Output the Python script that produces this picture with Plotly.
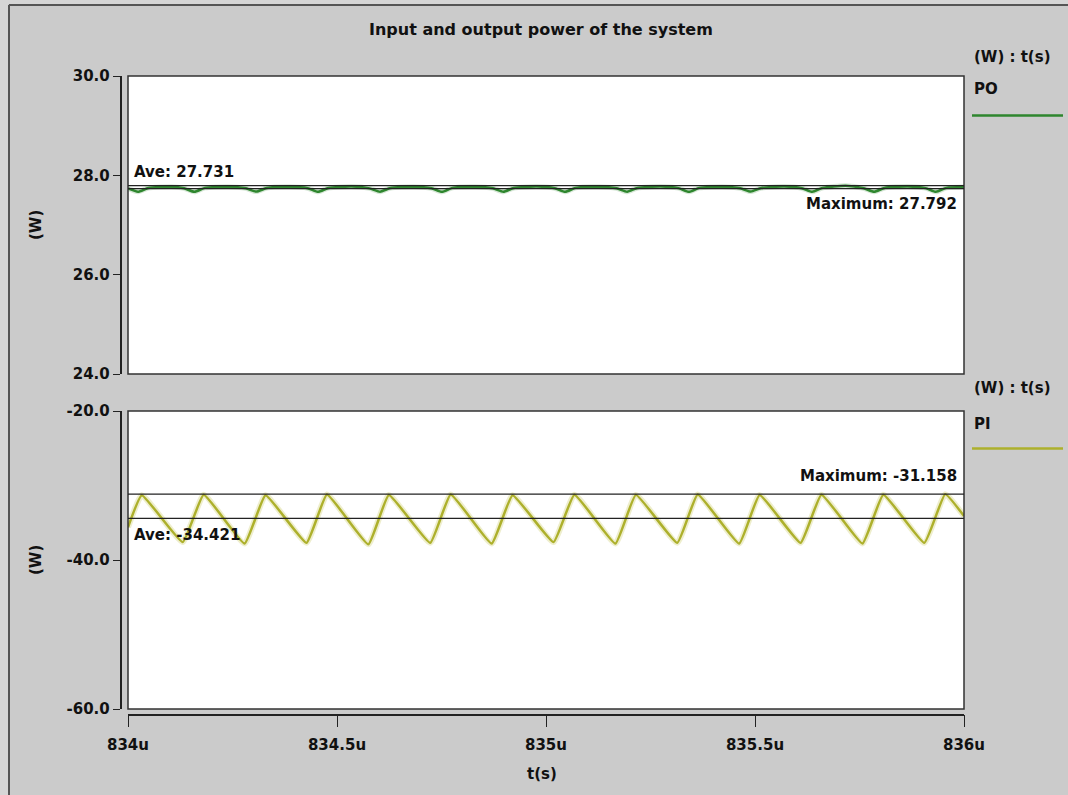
import plotly.graph_objects as go

# ---- figure size (pixels) ----
W, H = 1068, 795

# ---- output power PO (W) vs time (microseconds) ----
po_t = [834.000, 834.024, 834.049, 834.104,
        834.134, 834.159, 834.184, 834.239,
        834.282, 834.307, 834.332, 834.387,
        834.430, 834.455, 834.480, 834.535,
        834.578, 834.603, 834.628, 834.683,
        834.726, 834.751, 834.776, 834.831,
        834.873, 834.898, 834.923, 834.978,
        835.021, 835.046, 835.071, 835.126,
        835.169, 835.194, 835.219, 835.274,
        835.317, 835.342, 835.367, 835.422,
        835.465, 835.490, 835.515, 835.570,
        835.612, 835.637, 835.662, 835.717,
        835.760, 835.785, 835.810, 835.865,
        835.908, 835.933, 835.958, 836.000]
po_w = [27.735, 27.670, 27.745, 27.770,
        27.740, 27.668, 27.748, 27.772,
        27.738, 27.672, 27.744, 27.768,
        27.741, 27.669, 27.746, 27.775,
        27.737, 27.671, 27.744, 27.771,
        27.740, 27.668, 27.747, 27.769,
        27.738, 27.670, 27.745, 27.773,
        27.741, 27.669, 27.748, 27.770,
        27.739, 27.671, 27.746, 27.776,
        27.742, 27.668, 27.747, 27.772,
        27.738, 27.672, 27.745, 27.774,
        27.741, 27.669, 27.748, 27.792,
        27.740, 27.670, 27.746, 27.777,
        27.742, 27.668, 27.748, 27.765]

# ---- input power PI (W) vs time (microseconds): peaks and troughs ----
pi_t = [834.000,
        834.033, 834.131, 834.181, 834.279, 834.329, 834.427, 834.476, 834.575,
        834.624, 834.723, 834.772, 834.870, 834.920, 835.018, 835.068, 835.166,
        835.215, 835.314, 835.363, 835.462, 835.511, 835.609, 835.659, 835.757,
        835.807, 835.905, 835.955, 836.000]
pi_w = [-35.6,
        -31.30, -37.6, -31.25, -37.8, -31.32, -37.7, -31.22, -37.9,
        -31.28, -37.7, -31.20, -37.8, -31.30, -37.6, -31.24, -37.8,
        -31.26, -37.7, -31.21, -37.8, -31.27, -37.7, -31.23, -37.8,
        -31.25, -37.7, -31.158, -34.1]

# ---- statistics shown on the chart ----
po_ave, po_max = 27.731, 27.792
pi_ave, pi_max = -34.421, -31.158

# ---- axes ----
x_range = [834.0, 836.0]
x_ticks = [834.0, 834.5, 835.0, 835.5, 836.0]
x_tick_text = ["834u", "834.5u", "835u", "835.5u", "836u"]
po_range = [24.0, 30.0]
po_ticks = [24.0, 26.0, 28.0, 30.0]
po_tick_text = ["24.0", "26.0", "28.0", "30.0"]
pi_range = [-60.0, -20.0]
pi_ticks = [-60.0, -40.0, -20.0]
pi_tick_text = ["-60.0", "-40.0", "-20.0"]

PO_COLOR = "#2e862e"
PI_COLOR = "#adb02c"
INK = "#111111"
FONT = "DejaVu Sans"


def fx(px):
    return px / W


def fy(py):
    return 1 - py / H


fig = go.Figure()
# soft halo under each waveform
fig.add_trace(go.Scatter(x=po_t, y=po_w, mode="lines", hoverinfo="skip",
                         line=dict(color="rgba(90,160,90,0.25)", width=5,
                                   shape="spline", smoothing=0.6),
                         xaxis="x", yaxis="y", showlegend=False))
fig.add_trace(go.Scatter(x=po_t, y=po_w, mode="lines", name="PO",
                         line=dict(color=PO_COLOR, width=2.5,
                                   shape="spline", smoothing=0.6),
                         xaxis="x", yaxis="y", showlegend=False))
fig.add_trace(go.Scatter(x=pi_t, y=pi_w, mode="lines", hoverinfo="skip",
                         line=dict(color="rgba(200,200,90,0.3)", width=6,
                                   shape="spline", smoothing=0.35),
                         xaxis="x2", yaxis="y2", showlegend=False))
fig.add_trace(go.Scatter(x=pi_t, y=pi_w, mode="lines", name="PI",
                         line=dict(color=PI_COLOR, width=2.5,
                                   shape="spline", smoothing=0.35),
                         xaxis="x2", yaxis="y2", showlegend=False))

tick_font = dict(family=FONT, size=15, color=INK, weight="bold")
x_dom = [fx(128), fx(964)]

fig.update_layout(
    template="none",
    width=W, height=H,
    margin=dict(l=0, r=0, t=0, b=0, pad=0, autoexpand=False),
    paper_bgcolor="#cbcbcb",
    plot_bgcolor="white",
    font=dict(family=FONT, size=15, color=INK),
    xaxis=dict(domain=x_dom, range=x_range, visible=False,
               anchor="y", matches="x2", automargin=False),
    yaxis=dict(domain=[fy(374), fy(76)], range=po_range,
               tickvals=po_ticks, ticktext=po_tick_text,
               anchor="free", position=fx(120.5), automargin=False,
               showline=True, linecolor="#222", linewidth=1.5,
               ticks="outside", ticklen=7, tickcolor="#222", tickwidth=1.2,
               showgrid=False, zeroline=False, tickfont=tick_font),
    xaxis2=dict(domain=x_dom, range=x_range,
                tickvals=x_ticks, ticktext=x_tick_text,
                anchor="free", position=fy(714.5), automargin=False,
                showline=True, linecolor="#222", linewidth=1.5,
                ticks="outside", ticklen=12, tickcolor="#222", tickwidth=1.2,
                ticklabelstandoff=5,
                showgrid=False, zeroline=False, tickfont=tick_font),
    yaxis2=dict(domain=[fy(709), fy(411)], range=pi_range,
                tickvals=pi_ticks, ticktext=pi_tick_text,
                anchor="free", position=fx(120.5), automargin=False,
                showline=True, linecolor="#222", linewidth=1.5,
                ticks="outside", ticklen=7, tickcolor="#222", tickwidth=1.2,
                showgrid=False, zeroline=False, tickfont=tick_font),
)

shapes = []
# frame around each panel
for xa, ya in (("x", "y"), ("x2", "y2")):
    shapes.append(dict(type="rect", xref=f"{xa} domain", yref=f"{ya} domain",
                       x0=0, x1=1, y0=0, y1=1,
                       line=dict(color="#333", width=1.5)))
# average and maximum reference lines
for ya, xa, val in (("y", "x", po_ave), ("y", "x", po_max),
                    ("y2", "x2", pi_ave), ("y2", "x2", pi_max)):
    shapes.append(dict(type="line", xref=f"{xa} domain", yref=ya,
                       x0=0, x1=1, y0=val, y1=val,
                       line=dict(color="#222", width=1.2)))
# legend swatches
shapes.append(dict(type="line", xref="paper", yref="paper",
                   x0=fx(972), x1=fx(1063), y0=fy(115.5), y1=fy(115.5),
                   line=dict(color=PO_COLOR, width=2.5)))
shapes.append(dict(type="line", xref="paper", yref="paper",
                   x0=fx(972), x1=fx(1063), y0=fy(448.5), y1=fy(448.5),
                   line=dict(color=PI_COLOR, width=2.5)))
# window edge
shapes.append(dict(type="rect", xref="paper", yref="paper",
                   x0=0, x1=fx(8), y0=0, y1=1, line=dict(width=0),
                   fillcolor="#d6d6d6", layer="below"))
shapes.append(dict(type="rect", xref="paper", yref="paper",
                   x0=0, x1=1, y0=fy(4), y1=1, line=dict(width=0),
                   fillcolor="#d6d6d6", layer="below"))
shapes.append(dict(type="line", xref="paper", yref="paper",
                   x0=fx(9), x1=fx(9), y0=0, y1=fy(5),
                   line=dict(color="#555", width=2)))
shapes.append(dict(type="line", xref="paper", yref="paper",
                   x0=fx(9), x1=1, y0=fy(5), y1=fy(5),
                   line=dict(color="#555", width=2)))
fig.update_layout(shapes=shapes)


def label(text, px, py, xanchor="center", angle=0, size=15):
    return dict(text=text, xref="paper", yref="paper", x=fx(px), y=fy(py),
                xanchor=xanchor, yanchor="middle", showarrow=False,
                textangle=angle,
                font=dict(family=FONT, size=size, color=INK, weight="bold"))


annotations = [
    label("Input and output power of the system", 541, 30, size=16),
    label("(W) : t(s)", 972, 57, "left"),
    label("PO", 972, 89, "left"),
    label("(W) : t(s)", 972, 388, "left"),
    label("PI", 972, 424, "left"),
    label("(W)", 36, 225, angle=-90),
    label("(W)", 36, 560, angle=-90),
    label("t(s)", 542, 774),
    label(f"Ave: {po_ave:.3f}", 132, 171.5, "left"),
    label(f"Maximum: {po_max:.3f}", 959, 204, "right"),
    label(f"Maximum: {pi_max:.3f}", 959, 475.5, "right"),
    label(f"Ave: {pi_ave:.3f}", 132, 535, "left"),
]
fig.update_layout(annotations=annotations)

fig.write_html("out.html", config=dict(displayModeBar=False))
